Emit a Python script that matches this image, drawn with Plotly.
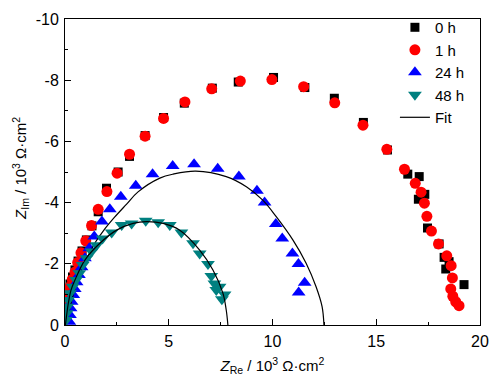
import plotly.graph_objects as go

# ---- data (Z_Re, Z_Im in 10^3 ohm cm^2) ----
h0_re = [0.05, 0.12, 0.24, 0.36, 0.48, 0.63, 0.82, 1.03, 1.30, 1.60, 2.00, 2.56, 3.11, 3.86, 4.75, 5.75,
         7.10, 8.35, 10.05, 11.56, 12.98, 14.38, 15.54, 16.52, 17.07, 17.34, 17.03, 17.47, 18.03, 18.27,
         18.51, 18.35, 19.23]
h0_im = [-0.88, -1.08, -1.34, -1.57, -1.80, -2.09, -2.42, -2.78, -3.24, -3.70, -4.47, -5.00, -5.51, -6.19,
         -6.78, -7.25, -7.74, -7.94, -8.09, -7.76, -7.41, -6.62, -5.72, -4.93, -4.85, -4.27, -4.11, -3.17,
         -2.65, -2.21, -2.07, -1.83, -1.32]

h1_re = [0.05, 0.11, 0.24, 0.35, 0.48, 0.61, 0.77, 1.00, 1.28, 1.60, 2.02, 2.51, 3.11, 3.86, 4.75, 5.78,
         7.07, 8.45, 9.97, 11.50, 13.00, 14.36, 15.51, 16.36, 16.88, 17.16, 17.32, 17.44, 17.66, 18.00,
         18.40, 18.61, 18.67, 18.59, 18.69, 18.83, 18.99]
h1_im = [-0.82, -1.01, -1.25, -1.49, -1.73, -2.04, -2.36, -2.75, -3.25, -3.78, -4.36, -4.96, -5.58, -6.17,
         -6.75, -7.29, -7.72, -7.97, -8.02, -7.79, -7.26, -6.53, -5.74, -5.09, -4.63, -4.34, -3.98, -3.55,
         -3.07, -2.65, -2.26, -1.94, -1.54, -1.18, -0.94, -0.76, -0.63]

h24_re = [0.21, 0.24, 0.27, 0.32, 0.40, 0.47, 0.56, 0.67, 0.80, 0.96, 1.17, 1.41, 1.78, 2.16, 2.69, 3.41,
          4.22, 5.19, 6.22, 7.36, 8.38, 9.25, 9.62, 10.16, 10.47, 10.96, 11.25, 11.55, 11.26]
h24_im = [-0.11, -0.33, -0.55, -0.76, -0.98, -1.18, -1.40, -1.63, -1.89, -2.18, -2.51, -2.89, -3.38, -3.78,
          -4.19, -4.55, -4.93, -5.20, -5.25, -5.11, -4.85, -4.39, -4.00, -3.30, -2.83, -2.34, -1.99, -1.38,
          -1.06]

h48_re = [0.05, 0.08, 0.11, 0.16, 0.24, 0.37, 0.53, 0.69, 0.85, 1.04, 1.28, 1.52, 1.81, 2.25, 2.73, 3.21,
          3.89, 4.49, 5.05, 5.61, 6.17, 6.49, 6.89, 7.05, 7.20, 7.45, 7.29, 7.69, 7.56]
h48_im = [-0.16, -0.38, -0.60, -0.82, -1.04, -1.25, -1.47, -1.69, -1.96, -2.18, -2.40, -2.61, -2.83, -3.02,
          -3.27, -3.32, -3.41, -3.36, -3.27, -3.02, -2.67, -2.34, -1.99, -1.60, -1.36, -1.25, -1.14, -1.00,
          -0.84]

fit24_re = [0.07, 0.19, 0.34, 0.53, 0.79, 1.11, 1.44, 1.84, 2.40, 2.97, 3.52, 4.57, 5.21, 6.30, 7.77, 8.74,
            9.53, 10.18, 10.98, 11.62, 12.10, 12.39, 12.48]
fit24_im = [0.0, -0.42, -0.85, -1.31, -1.80, -2.25, -2.68, -3.07, -3.53, -3.95, -4.35, -4.80, -4.93, -5.03,
            -4.85, -4.52, -4.08, -3.54, -2.78, -2.02, -1.25, -0.60, 0.0]

fit48_re = [0.02, 0.16, 0.29, 0.48, 0.96, 1.68, 2.49, 3.28, 3.93, 4.73, 5.53, 6.49, 7.13, 7.61, 7.77, 7.85]
fit48_im = [0.0, -0.71, -1.14, -1.47, -2.12, -2.67, -3.10, -3.32, -3.38, -3.32, -3.10, -2.45, -1.80, -1.04,
            -0.49, 0.0]

x_ticks = [0, 5, 10, 15, 20]
y_ticks = [-10, -8, -6, -4, -2, 0]

FONT = "Liberation Sans, Arial, sans-serif"

fig = go.Figure()
fig.add_trace(go.Scatter(x=h0_re, y=h0_im, mode="markers", name="0 h",
                         marker=dict(symbol="square", size=9, color="black")))
fig.add_trace(go.Scatter(x=h1_re, y=h1_im, mode="markers", name="1 h",
                         marker=dict(symbol="circle", size=11, color="#FF0000")))
fig.add_trace(go.Scatter(x=h24_re, y=h24_im, mode="markers", name="24 h",
                         marker=dict(symbol="triangle-up", size=12, color="#0000FF")))
fig.add_trace(go.Scatter(x=fit24_re, y=fit24_im, mode="lines", name="Fit", showlegend=False,
                         line=dict(color="black", width=1.2, shape="spline")))
fig.add_trace(go.Scatter(x=h48_re, y=h48_im, mode="markers", name="48 h",
                         marker=dict(symbol="triangle-down", size=12, color="#008080")))
fig.add_trace(go.Scatter(x=fit48_re, y=fit48_im, mode="lines", name="Fit",
                         line=dict(color="black", width=1.2, shape="spline")))

axis_common = dict(showline=True, linecolor="black", linewidth=1, mirror=True,
                   ticks="inside", ticklen=6, tickwidth=1, tickcolor="black",
                   showgrid=False, zeroline=False, automargin=False,
                   tickfont=dict(family=FONT, size=16, color="black"))

fig.update_xaxes(range=[0, 20], tickvals=x_ticks, ticktext=[str(v) for v in x_ticks],
                 minor=dict(ticks="inside", ticklen=3, dtick=2.5, tick0=0, tickcolor="black"),
                 ticklabelstandoff=2,
                 title=dict(text="<i>Z</i><sub>Re</sub> / 10<sup>3</sup> Ω·cm<sup>2</sup>",
                            font=dict(family=FONT, size=15, color="black"), standoff=11),
                 **axis_common)
fig.update_yaxes(range=[0, -10], tickvals=y_ticks, ticktext=[str(v) for v in y_ticks],
                 minor=dict(ticks="inside", ticklen=3, dtick=1, tick0=0, tickcolor="black"),
                 ticklabelstandoff=2,
                 **axis_common)

# y-axis title as a rotated annotation for exact placement
fig.add_annotation(text="<i>Z</i><sub>Im</sub> / 10<sup>3</sup> Ω·cm<sup>2</sup>",
                   xref="paper", yref="paper", x=0, y=0.51, xshift=-44,
                   textangle=-90, showarrow=False, xanchor="center", yanchor="middle",
                   font=dict(family=FONT, size=15, color="black"))

fig.update_layout(
    width=499, height=382,
    margin=dict(l=57, r=27, t=11, b=65, autoexpand=False),
    plot_bgcolor="white", paper_bgcolor="white",
    font=dict(family=FONT, size=15, color="black"),
    legend=dict(x=0.795, y=1.026, xanchor="left", yanchor="top",
                bgcolor="rgba(0,0,0,0)", borderwidth=0, tracegroupgap=0,
                font=dict(family=FONT, size=15, color="black"), itemwidth=30),
)

fig.write_html("out.html")
